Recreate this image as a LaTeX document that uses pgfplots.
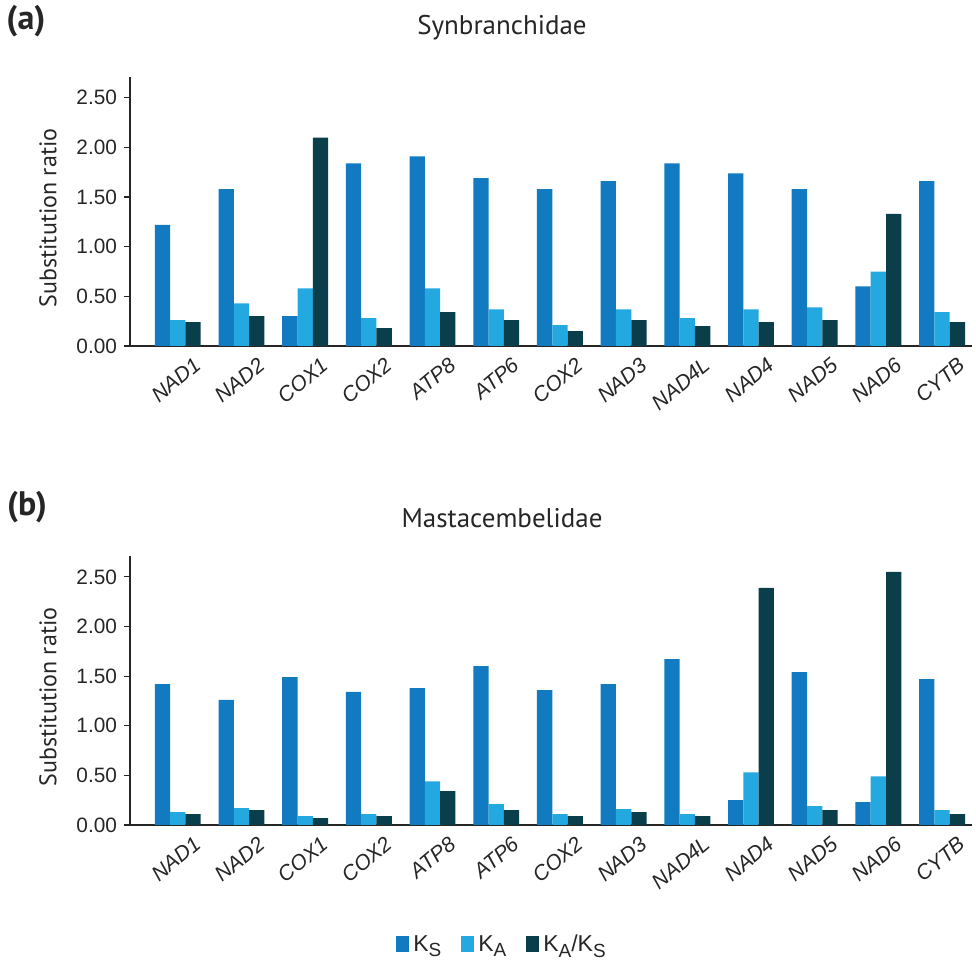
\documentclass[border=0pt]{standalone}
\usepackage{pgfplots}
\pgfplotsset{compat=1.18}
\usepackage{fontspec}
\setmainfont{Liberation Sans}
\newfontfamily\titlefont{PT Sans}
\definecolor{cks}{HTML}{117AC0}
\definecolor{cka}{HTML}{24A8E0}
\definecolor{crat}{HTML}{0A3E4A}
\newcommand{\sub}[1]{\raisebox{-0.45ex}{\fontsize{9.5}{10}\selectfont #1}}

\pgfplotsset{myax/.style={
  width=421pt, height=134.5pt, scale only axis,
  xmin=-0.75, xmax=12.47, ymin=0, ymax=2.71,
  ybar=0pt, bar width=7.65pt,
  axis x line*=bottom, axis y line*=left,
  axis line style={-, line width=1.1pt, color=black!85},
  xtick={0,...,12},
  xticklabels={NAD1,NAD2,COX1,COX2,ATP8,ATP6,COX2,NAD3,NAD4L,NAD4,NAD5,NAD6,CYTB},
  x tick style={draw=none},
  ytick={0,0.5,1,1.5,2,2.5},
  yticklabels={0.00,0.50,1.00,1.50,2.00,2.50},
  y tick style={black!85, line width=0.6pt},
  tick align=outside, major tick length=3pt,
  yticklabel style={font=\fontsize{10.4}{12}\selectfont, color=black!85},
  xticklabel style={font=\fontsize{10.6}{12}\selectfont\itshape, color=black!85, rotate=40, anchor=north east, xshift=8pt, yshift=-3pt},
  ylabel={Substitution ratio},
  ylabel style={font=\titlefont\fontsize{12}{13}\selectfont, color=black!85, at={(axis description cs:-0.0975,0.476)}, anchor=center},
  every axis plot/.append style={draw=none},
  legend image code/.code={\fill[##1] (0pt,-3.5pt) rectangle (6.5pt,4.5pt);},
  /pgf/number format/assume math mode=true,
  clip=false,
}}

\begin{document}
\begin{tikzpicture}
\path[use as bounding box] (0,0) rectangle (488pt,-480.5pt);

\node[font=\titlefont\bfseries\fontsize{17}{19}\selectfont, color=black!85] at (13pt,-10.5pt) {(a)};
\node[font=\titlefont\fontsize{13.5}{15}\selectfont, color=black!85] at (251pt,-14pt) {Synbranchidae};
\node[font=\titlefont\bfseries\fontsize{17}{19}\selectfont, color=black!85] at (13.5pt,-253.5pt) {(b)};
\node[font=\titlefont\fontsize{13.5}{15}\selectfont, color=black!85] at (251pt,-259pt) {Mastacembelidae};

\begin{axis}[myax, at={(65pt,-173pt)}, anchor=south west]
\addplot[fill=cks] coordinates {(0,1.22) (1,1.58) (2,0.30) (3,1.84) (4,1.91) (5,1.69) (6,1.58) (7,1.66) (8,1.84) (9,1.74) (10,1.58) (11,0.60) (12,1.66)};
\addplot[fill=cka] coordinates {(0,0.26) (1,0.43) (2,0.58) (3,0.28) (4,0.58) (5,0.37) (6,0.21) (7,0.37) (8,0.28) (9,0.37) (10,0.39) (11,0.75) (12,0.34)};
\addplot[fill=crat] coordinates {(0,0.24) (1,0.30) (2,2.10) (3,0.18) (4,0.34) (5,0.26) (6,0.15) (7,0.26) (8,0.20) (9,0.24) (10,0.26) (11,1.33) (12,0.24)};
\end{axis}

\begin{axis}[myax, at={(65pt,-412.5pt)}, anchor=south west,
  legend style={at={(axis description cs:0.443,-0.446)}, anchor=center, draw=none, fill=none,
    legend columns=3, font=\fontsize{11.5}{13}\selectfont, text=black!85,
    /tikz/every even column/.append style={column sep=8pt}}]
\addplot[fill=cks] coordinates {(0,1.42) (1,1.26) (2,1.49) (3,1.34) (4,1.38) (5,1.60) (6,1.36) (7,1.42) (8,1.67) (9,0.25) (10,1.54) (11,0.23) (12,1.47)};
\addplot[fill=cka] coordinates {(0,0.13) (1,0.17) (2,0.09) (3,0.11) (4,0.44) (5,0.21) (6,0.11) (7,0.16) (8,0.11) (9,0.53) (10,0.19) (11,0.49) (12,0.15)};
\addplot[fill=crat] coordinates {(0,0.11) (1,0.15) (2,0.07) (3,0.09) (4,0.34) (5,0.15) (6,0.09) (7,0.13) (8,0.09) (9,2.39) (10,0.15) (11,2.55) (12,0.11)};
\legend{K\sub{S}, K\sub{A}, K\sub{A}/K\sub{S}}
\end{axis}
\end{tikzpicture}
\end{document}
